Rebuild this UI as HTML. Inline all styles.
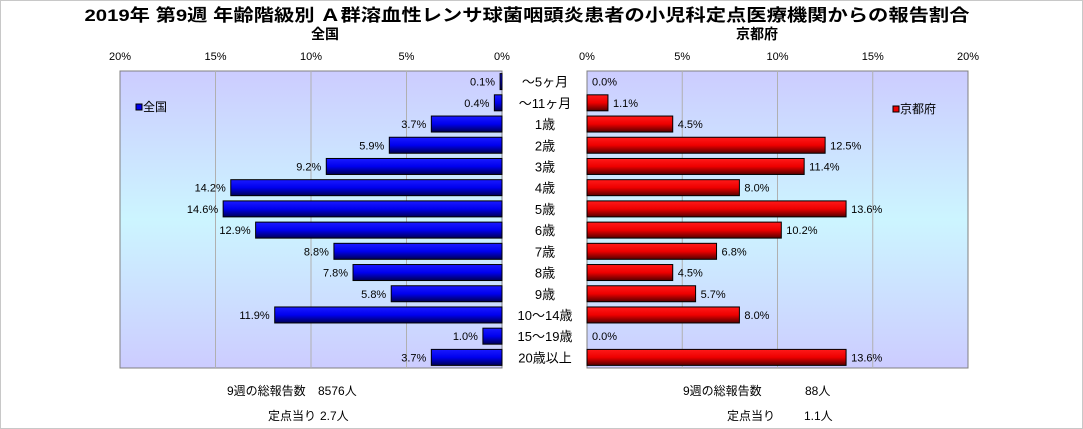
<!DOCTYPE html>
<html><head><meta charset="utf-8"><style>
html,body{margin:0;padding:0;background:#fff}
svg{display:block;font-family:"Liberation Sans","Noto Sans CJK JP",sans-serif}
</style></head><body>
<svg id="c" width="1083" height="429" xmlns="http://www.w3.org/2000/svg">
<defs>
<linearGradient id="bg" x1="0" y1="0" x2="0" y2="1">
<stop offset="0" stop-color="#ccccff"/><stop offset="0.5" stop-color="#ccf5ff"/><stop offset="1" stop-color="#ccccff"/></linearGradient>
<linearGradient id="gb" x1="0" y1="0" x2="0" y2="1">
<stop offset="0" stop-color="#1a1aff"/><stop offset="0.5" stop-color="#0000ee"/><stop offset="1" stop-color="#000055"/></linearGradient>
<linearGradient id="gr" x1="0" y1="0" x2="0" y2="1">
<stop offset="0" stop-color="#ff1a1a"/><stop offset="0.5" stop-color="#ee0000"/><stop offset="1" stop-color="#550000"/></linearGradient>
</defs>
<rect x="0.5" y="0.5" width="1082" height="428" fill="#fff" stroke="#c8c8c8"/>
<text x="527" y="21" text-anchor="middle" font-size="17" font-weight="bold" textLength="885" lengthAdjust="spacingAndGlyphs">2019年 第9週 年齢階級別 Ａ群溶血性レンサ球菌咽頭炎患者の小児科定点医療機関からの報告割合</text>
<text x="325" y="39" text-anchor="middle" font-size="14" font-weight="bold">全国</text>
<text x="757" y="39" text-anchor="middle" font-size="14" font-weight="bold">京都府</text>
<g id="g"></g>
<text x="227" y="395" font-size="12">9週の総報告数</text>
<text x="318" y="395" font-size="12">8576人</text>
<text x="268" y="420" font-size="12">定点当り</text>
<text x="320" y="420" font-size="12">2.7人</text>
<text x="683" y="395" font-size="12">9週の総報告数</text>
<text x="805" y="395" font-size="12">88人</text>
<text x="727" y="420" font-size="12">定点当り</text>
<text x="804" y="420" font-size="12">1.1人</text>
</svg>
<script>
const categories=["～5ヶ月","～11ヶ月","1歳","2歳","3歳","4歳","5歳","6歳","7歳","8歳","9歳","10～14歳","15～19歳","20歳以上"];
const nationalValues=[0.1,0.4,3.7,5.9,9.2,14.2,14.6,12.9,8.8,7.8,5.8,11.9,1.0,3.7];
const kyotoValues=[0.0,1.1,4.5,12.5,11.4,8.0,13.6,10.2,6.8,4.5,5.7,8.0,0.0,13.6];
const tickValues=[0,5,10,15,20];
const NS="http://www.w3.org/2000/svg";
const g=document.getElementById('g');
const top0=71,bot0=368,L0=120,L1=502,R0=587,R1=968,maxV=20;
const band=(bot0-top0)/categories.length;
const xl=v=>L1-(v/maxV)*(L1-L0);
const xr=v=>R0+(v/maxV)*(R1-R0);
const yc=i=>top0+band*(i+0.5);
function mk(t,a){const e=document.createElementNS(NS,t);for(const k in a)e.setAttribute(k,a[k]);g.appendChild(e);return e;}
let p=mk('rect',{x:L0,y:top0,width:L1-L0,height:bot0-top0,fill:'url(#bg)',stroke:'#808080'});


p=mk('rect',{x:R0,y:top0,width:R1-R0,height:bot0-top0,fill:'url(#bg)',stroke:'#808080'});


tickValues.forEach(v=>{
  if(v>0&&v<maxV){
    let l=mk('line',{x1:xl(v),x2:xl(v),y1:top0,y2:bot0,stroke:'#b0b0b0'});
    
    
    l=mk('line',{x1:xr(v),x2:xr(v),y1:top0,y2:bot0,stroke:'#b0b0b0'});
    
    
  }
  let t=mk('text',{x:xl(v),y:60,'text-anchor':'middle','font-size':11});t.textContent=v+'%';
  
  
  t=mk('text',{x:xr(v),y:60,'text-anchor':'middle','font-size':11});t.textContent=v+'%';
  
  
});
categories.forEach((c,i)=>{
  const y=yc(i),h=16;
  const nv=nationalValues[i],kv=kyotoValues[i];
  let b=mk('rect',{x:xl(nv),y:y-h/2,width:L1-xl(nv),height:h,fill:'url(#gb)',stroke:'#000','stroke-width':1});
  
  
  let t=mk('text',{x:xl(nv)-5,y:y+4,'text-anchor':'end','font-size':11});t.textContent=nv.toFixed(1)+'%';
  
  
  if(kv>0){
    b=mk('rect',{x:R0,y:y-h/2,width:xr(kv)-R0,height:h,fill:'url(#gr)',stroke:'#000','stroke-width':1});
    
    
  }
  t=mk('text',{x:xr(kv)+5,y:y+4,'font-size':11});t.textContent=kv.toFixed(1)+'%';
  
  
  t=mk('text',{x:545,y:y+5,'text-anchor':'middle','font-size':13});t.textContent=c;
  
  
});
let lg=mk('rect',{x:136,y:104,width:6,height:6,fill:'#0000ee',stroke:'#000'});


lg=mk('text',{x:143,y:111,'font-size':12});lg.textContent='全国';


lg=mk('rect',{x:893,y:106,width:6,height:6,fill:'#ee0000',stroke:'#000'});


lg=mk('text',{x:900,y:113,'font-size':12});lg.textContent='京都府';


</script>
</body></html>
